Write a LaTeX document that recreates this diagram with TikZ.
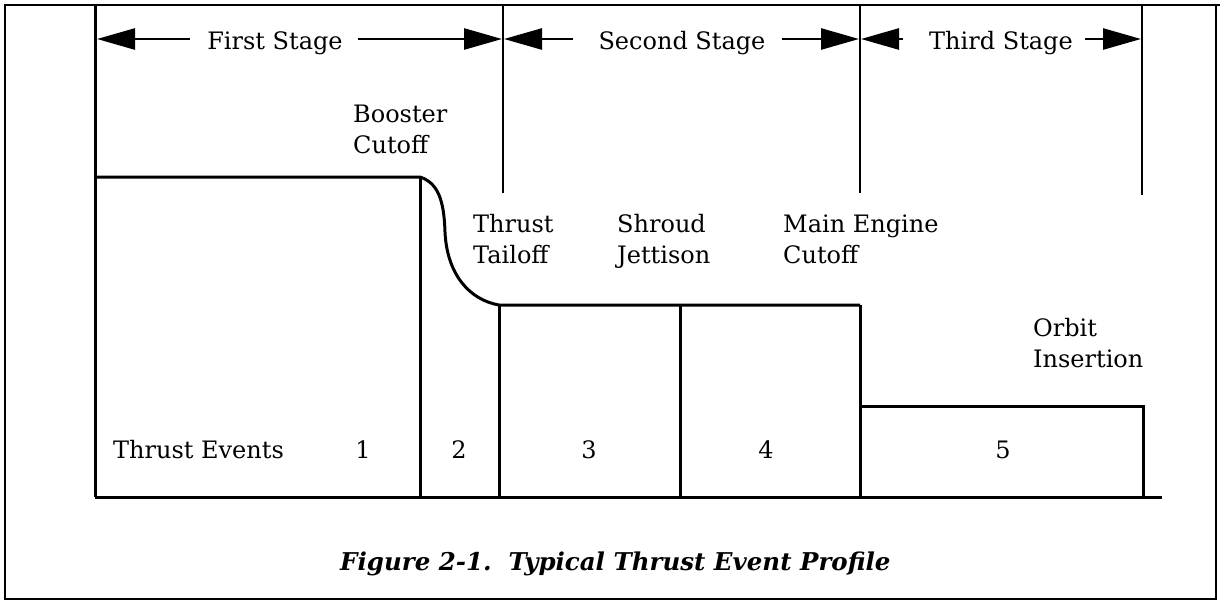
\documentclass[tikz,border=0pt]{standalone}
\usepackage{fontspec}
\setmainfont{DejaVu Serif}
\usetikzlibrary{arrows.meta}
\tikzset{
  lbl/.style={font=\fontsize{24}{31}\selectfont, inner sep=0pt, align=left},
  num/.style={font=\fontsize{24}{31}\selectfont, inner sep=0pt},
  frameline/.style={line width=2.4pt},
  sepline/.style={line width=2.6pt},
  boxline/.style={line width=3pt},
  stagearrow/.style={line width=2.6pt, -{Triangle[length=38pt,width=21pt]}},
}
\begin{document}
\begin{tikzpicture}[x=1pt,y=-1pt]
\useasboundingbox (0,0) rectangle (1220,603);
% outer frame
\draw[frameline] (5,5) rectangle (1216,599);
\draw[frameline] (1216,5) -- (1220,5);
% key coordinates
\coordinate (L0) at (95,5);
\coordinate (L1) at (95,497);
\coordinate (S1t) at (503,5);  \coordinate (S1b) at (503,193);
\coordinate (S2t) at (860,5);  \coordinate (S2b) at (860,193);
\coordinate (S3t) at (1142,5); \coordinate (S3b) at (1142,195);
% stage separators
\draw[boxline] (L0) -- (L1);
\draw[sepline] (S1t) -- (S1b);
\draw[sepline] (S2t) -- (S2b);
\draw[sepline] (S3t) -- (S3b);
% stage labels and arrows
\node[num, anchor=base] (st1) at (275,49) {First Stage};
\node[num, anchor=base] (st2) at (682,49) {Second Stage};
\node[num, anchor=base] (st3) at (1001,49) {Third Stage};
\coordinate (a1l) at (97,39);  \coordinate (a1r) at (502,39);
\coordinate (a2l) at (504,39); \coordinate (a2r) at (859,39);
\coordinate (a3l) at (861,39); \coordinate (a3r) at (1141,39);
\draw[stagearrow] (190,39) -- (a1l);
\draw[stagearrow] (358,39) -- (a1r);
\draw[stagearrow] (573,39) -- (a2l);
\draw[stagearrow] (782,39) -- (a2r);
\draw[stagearrow] (903,39) -- (a3l);
\draw[stagearrow] (1085,39) -- (a3r);
% thrust profile
\coordinate (B0) at (95,177);
\coordinate (B1) at (420,177);
\coordinate (B2) at (499,305);
\coordinate (B3) at (860,305);
\coordinate (B4) at (862,406);
\coordinate (B5) at (1143,406);
\coordinate (B6) at (1143,497);
\coordinate (BL) at (95,497);
\coordinate (BR) at (1162,497);
\draw[boxline] (B0) -- (B1) .. controls (438,183) and (444,200) .. (445,232)
  .. controls (447,275) and (470,300) .. (B2) -- (B3);
\draw[boxline] (B1) -- (420,497);
\draw[boxline] (B2) -- (499,497);
\draw[boxline] (680,305) -- (680,497);
\draw[boxline] (B3) -- (860,497);
\draw[boxline] (B4) -- (B5) -- (B6);
\draw[boxline] (BL) -- (BR);
% event labels (anchor = baseline of last line)
\node[lbl, anchor=base west] (bc) at (353,153) {Booster\\Cutoff};
\node[lbl, anchor=base west] (tt) at (473,263) {Thrust\\Tailoff};
\node[lbl, anchor=base west] (sj) at (617,263) {Shroud\\Jettison};
\node[lbl, anchor=base west] (me) at (783,263) {Main Engine\\Cutoff};
\node[lbl, anchor=base west] (oi) at (1033,367) {Orbit\\Insertion};
% numbers
\node[num, anchor=base west] (te) at (113,458) {Thrust Events};
\node[num, anchor=base] (n1) at (363,458) {1};
\node[num, anchor=base] (n2) at (459,458) {2};
\node[num, anchor=base] (n3) at (589,458) {3};
\node[num, anchor=base] (n4) at (766,458) {4};
\node[num, anchor=base] (n5) at (1003,458) {5};
% caption
\node[font=\fontsize{24.5}{28}\selectfont\bfseries\itshape, inner sep=0pt, anchor=base west] (cap) at (340,570) {Figure 2-1.\ \ Typical Thrust Event Profile};
\end{tikzpicture}
\end{document}
